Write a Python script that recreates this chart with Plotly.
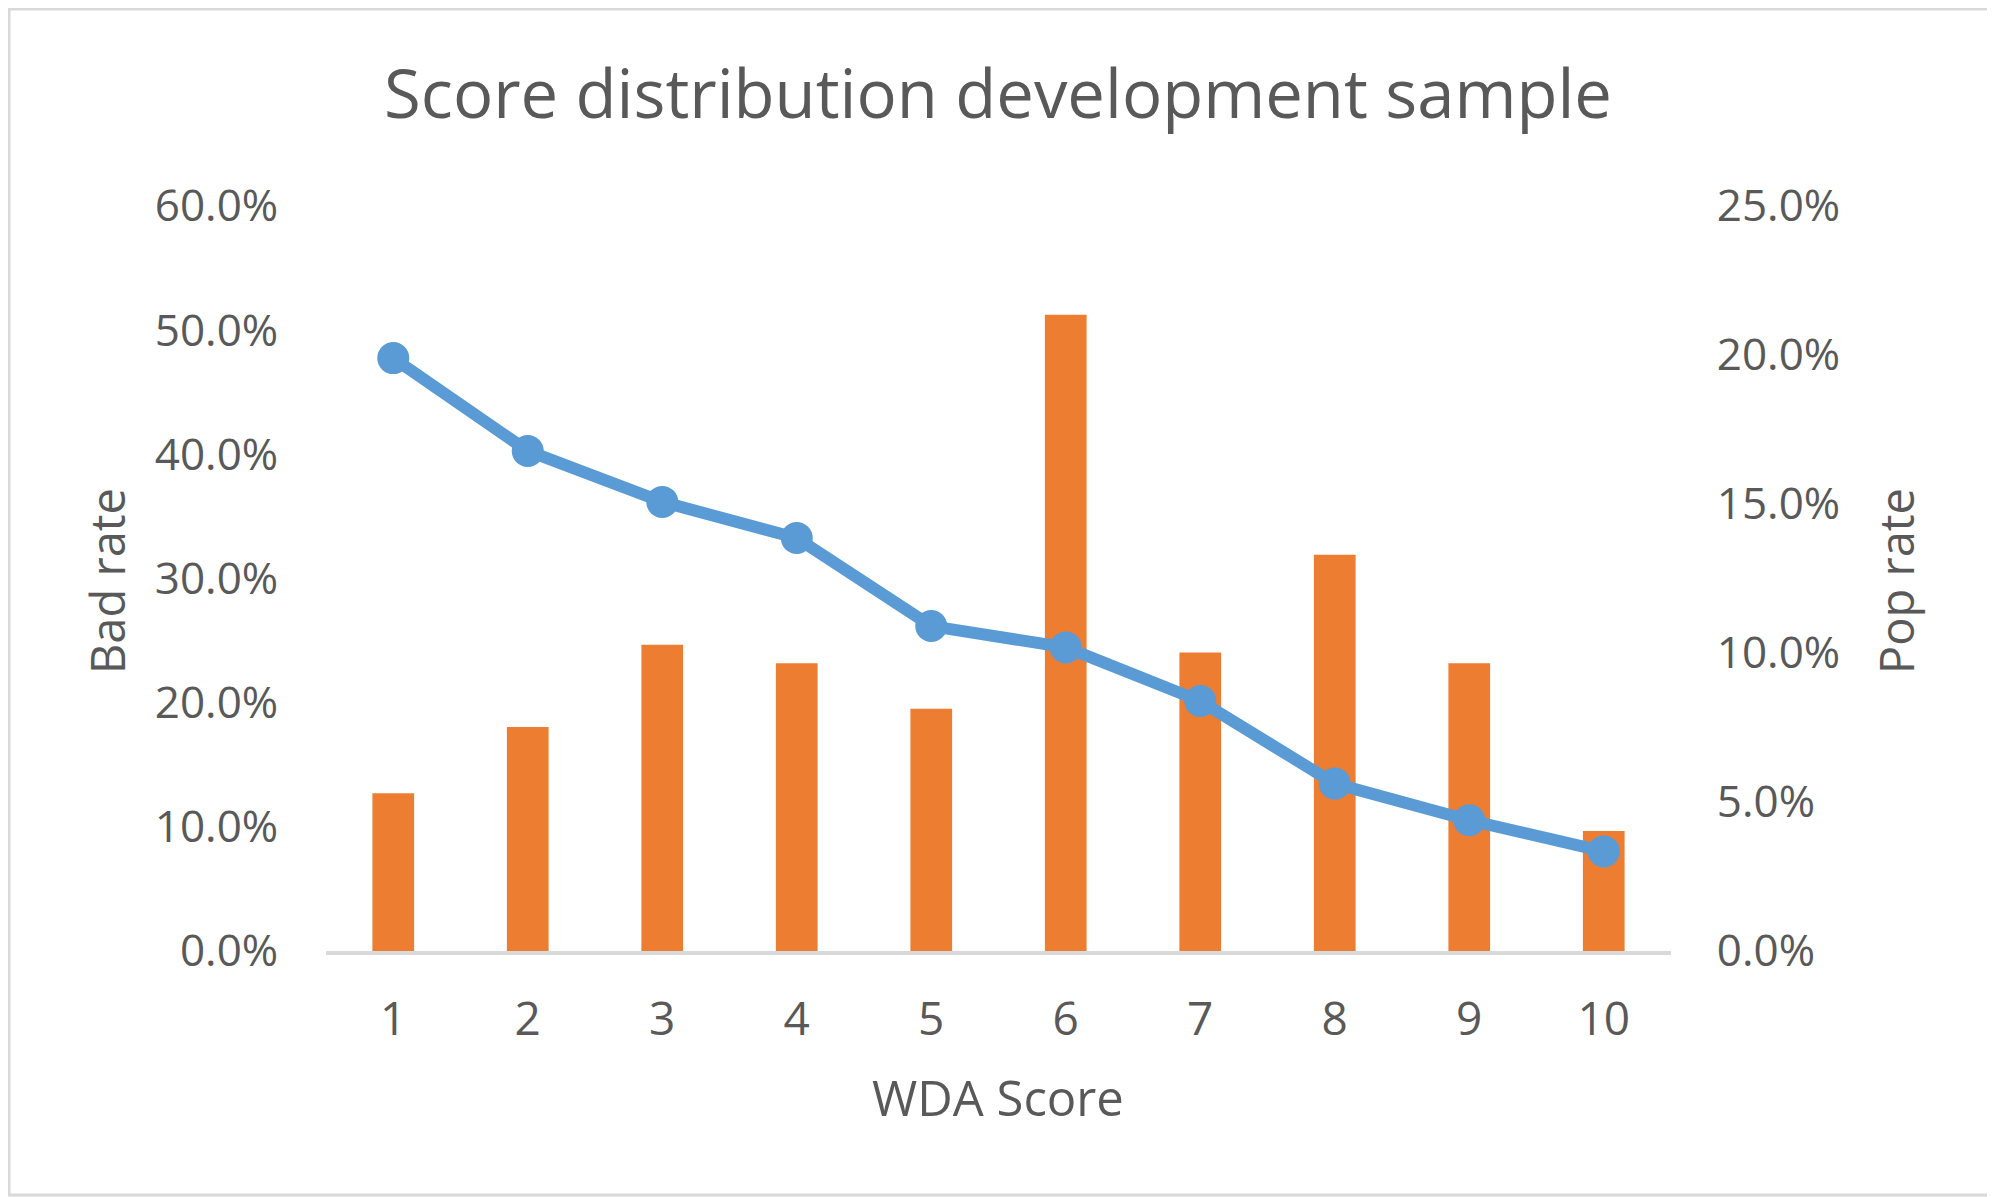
import plotly.graph_objects as go

scores = ["1", "2", "3", "4", "5", "6", "7", "8", "9", "10"]
pop_rate = [0.0529, 0.0752, 0.1028, 0.0966, 0.0813, 0.2135, 0.1002, 0.1330, 0.0966, 0.0403]
bad_rate = [0.4775, 0.4027, 0.3617, 0.3326, 0.2617, 0.2445, 0.2013, 0.1348, 0.1053, 0.0802]

left_ticks = [0, 0.1, 0.2, 0.3, 0.4, 0.5, 0.6]
right_ticks = [0, 0.05, 0.10, 0.15, 0.20, 0.25]

TXT = "#595959"
FONT = "Open Sans"
OFF = 8  # page body margin
W, H = 1995 - OFF, 1197 - OFF
# plot area in page coords: x 326..1671, y 206..951
L = 326 - OFF
T = 206 - OFF
R = W - (1671 - OFF)
B = H - (951 - OFF)
pw, ph = W - L - R, H - T - B


def px(xp):
    return (xp - OFF - L) / pw


def py(yp):
    return (H - B - (yp - OFF)) / ph


fig = go.Figure()
fig.add_trace(go.Bar(
    x=scores, y=pop_rate, name="Pop rate",
    marker=dict(color="#ED7D31", line=dict(width=0)),
    yaxis="y",
))
fig.add_trace(go.Scatter(
    x=scores, y=bad_rate, name="Bad rate", mode="lines+markers",
    line=dict(color="#5B9BD5", width=12),
    marker=dict(color="#5B9BD5", size=32, line=dict(width=0)),
    yaxis="y2",
))

fig.update_layout(
    width=W, height=H,
    margin=dict(l=L, r=R, t=T, b=B, pad=0),
    paper_bgcolor="white", plot_bgcolor="white",
    showlegend=False,
    bargap=0.69,
    font=dict(family=FONT, color=TXT),
    title=dict(
        text="Score distribution development sample",
        font=dict(family=FONT, size=67, color=TXT),
        x=(998 - OFF) / W, xanchor="center", xref="container",
        y=1 - (95 - OFF) / H, yanchor="middle", yref="container",
    ),
    xaxis=dict(
        type="category", range=[-0.5, 9.5],
        showline=True, linecolor="#D9D9D9", linewidth=4,
        showgrid=False, zeroline=False,
        ticks="outside", ticklen=25, tickcolor="rgba(0,0,0,0)",
        tickfont=dict(family=FONT, size=46, color=TXT),
    ),
    yaxis=dict(
        side="right", range=[0, 0.25],
        tickvals=right_ticks, tickformat=".1%",
        showgrid=False, zeroline=False, showline=False,
        ticks="outside", ticklen=36, tickcolor="rgba(0,0,0,0)",
        tickfont=dict(family=FONT, size=44, color=TXT),
    ),
    yaxis2=dict(
        side="left", overlaying="y", range=[0, 0.6],
        tickvals=left_ticks, tickformat=".1%",
        showgrid=False, zeroline=False, showline=False,
        ticks="outside", ticklen=38, tickcolor="rgba(0,0,0,0)",
        tickfont=dict(family=FONT, size=44, color=TXT),
    ),
    annotations=[
        dict(text="Bad rate", textangle=-90, xref="paper", yref="paper",
             x=px(107), y=py(581), xanchor="center", yanchor="middle",
             showarrow=False, font=dict(family=FONT, size=47, color=TXT)),
        dict(text="Pop rate", textangle=-90, xref="paper", yref="paper",
             x=px(1896), y=py(581), xanchor="center", yanchor="middle",
             showarrow=False, font=dict(family=FONT, size=47, color=TXT)),
        dict(text="WDA Score", xref="paper", yref="paper",
             x=px(998), y=py(1097), xanchor="center", yanchor="middle",
             showarrow=False, font=dict(family=FONT, size=49, color=TXT)),
    ],
    shapes=[
        dict(type="rect", xref="paper", yref="paper",
             x0=px(OFF + 1), x1=px(1995 - 2),
             y0=py(1197 - 2), y1=py(OFF + 1),
             line=dict(color="#D9D9D9", width=3), fillcolor="rgba(0,0,0,0)", layer="below"),
    ],
)

fig.write_html("out.html")
